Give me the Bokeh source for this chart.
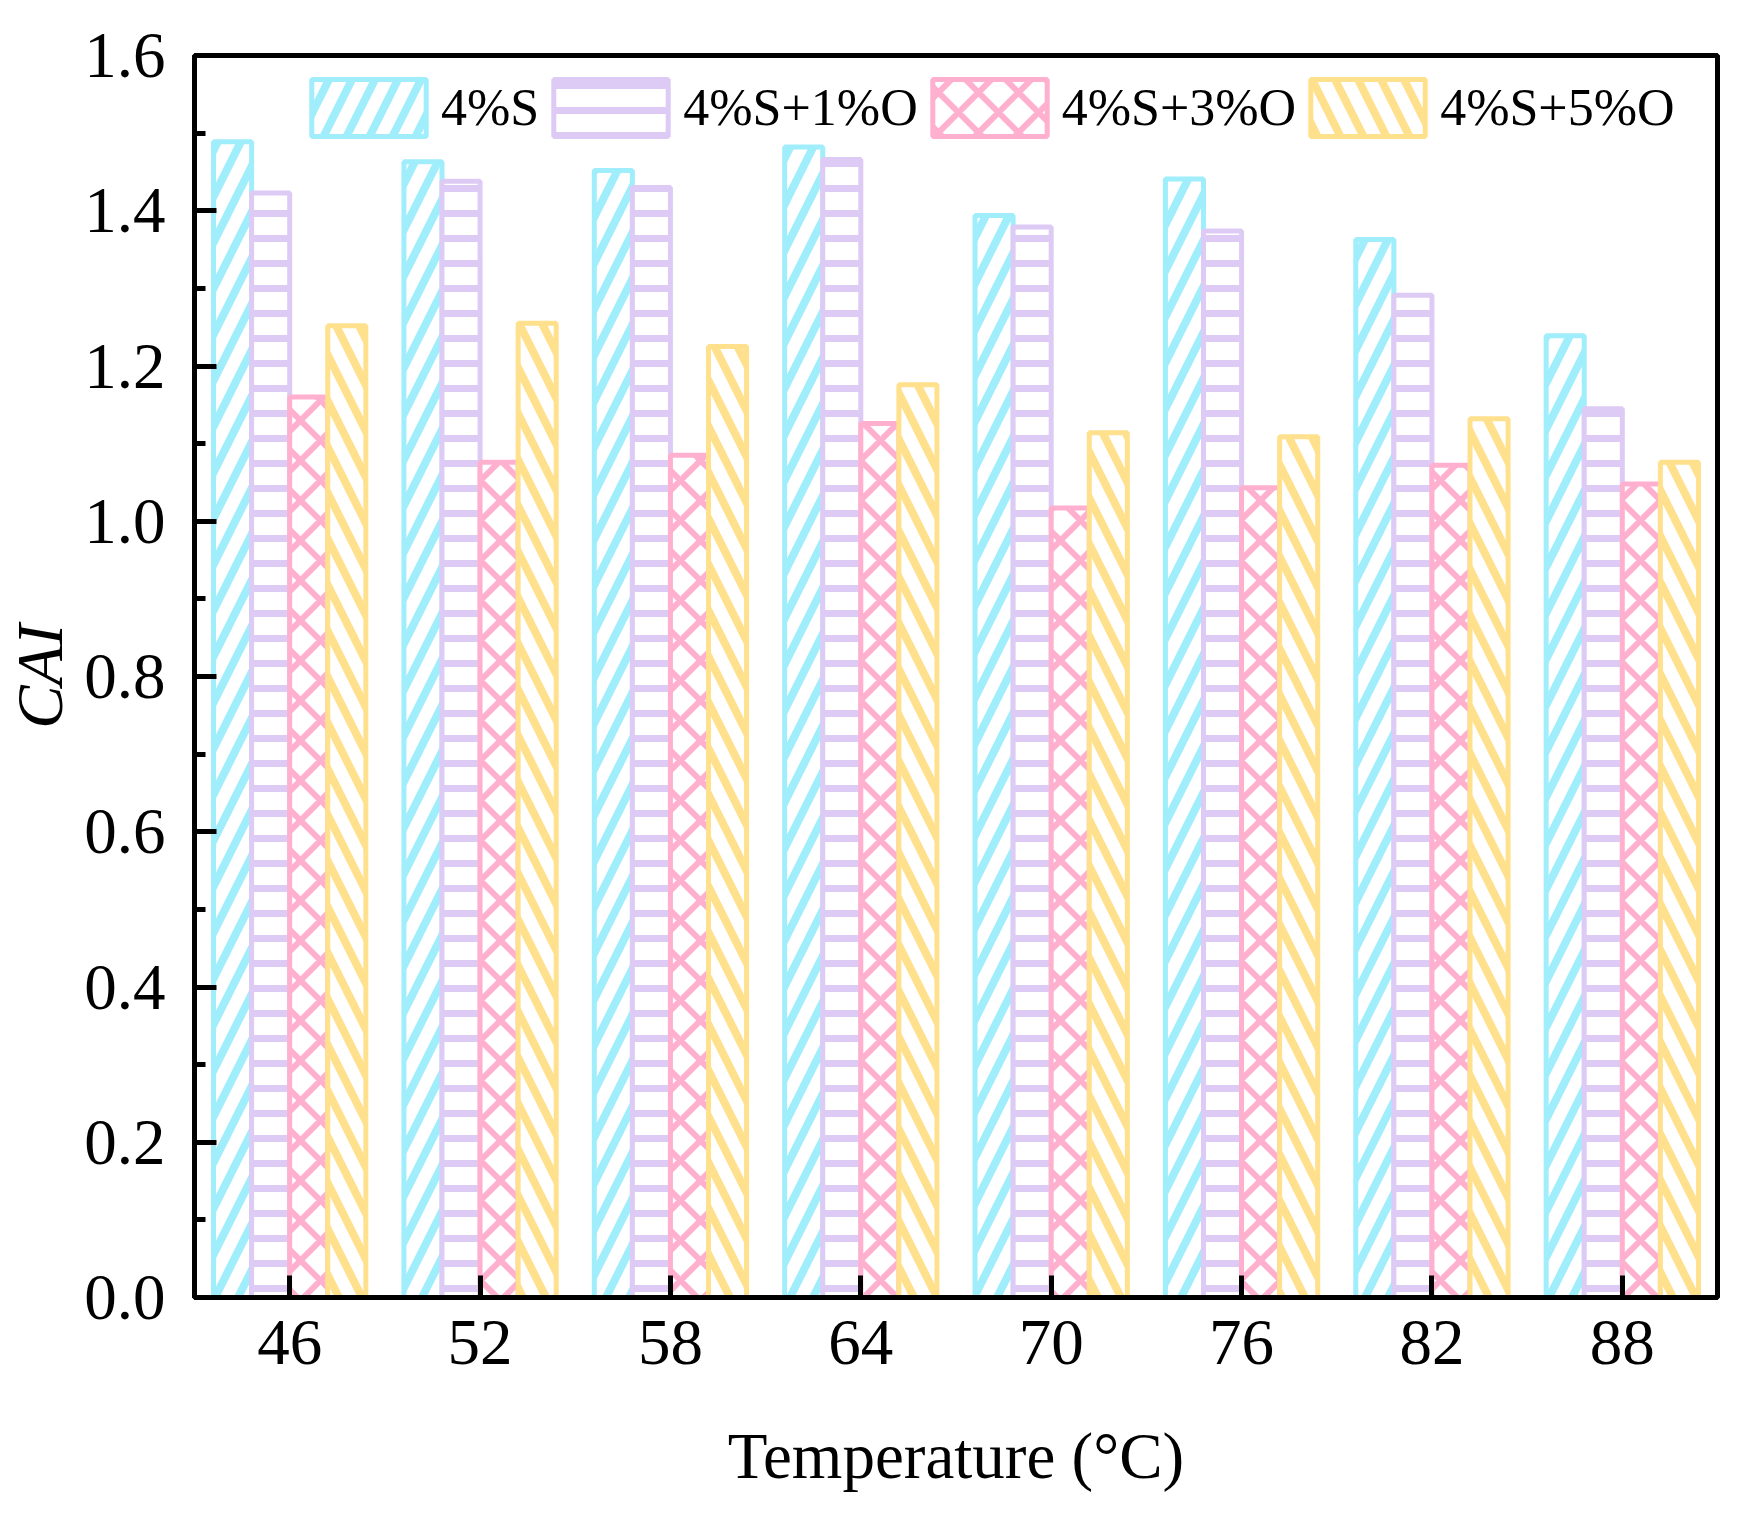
from bokeh.plotting import figure
from bokeh.models import (ColumnDataSource, Range1d, FactorRange, FixedTicker,
                          PrintfTickFormatter, Legend, LegendItem)
from bokeh.transform import dodge
from bokeh.embed import file_html
from bokeh.resources import INLINE

# ---- data ----
temps = ["46", "52", "58", "64", "70", "76", "82", "88"]
s4    = [1.489, 1.463, 1.452, 1.482, 1.394, 1.441, 1.363, 1.239]
s4_o1 = [1.423, 1.438, 1.430, 1.466, 1.379, 1.374, 1.291, 1.145]
s4_o3 = [1.160, 1.076, 1.085, 1.126, 1.017, 1.043, 1.072, 1.048]
s4_o5 = [1.252, 1.255, 1.225, 1.176, 1.114, 1.109, 1.132, 1.076]
series_names = ["4%S", "4%S+1%O", "4%S+3%O", "4%S+5%O"]
y_ticks = [0.0, 0.2, 0.4, 0.6, 0.8, 1.0, 1.2, 1.4, 1.6]
y_minor = [0.1, 0.3, 0.5, 0.7, 0.9, 1.1, 1.3, 1.5]

colors = ["#A0EDFB", "#DDCBF5", "#FFB0CE", "#FFE08D"]
patterns = ["/", "-", "x", "\\"]
scales = [46, 25, 40, 46]
weights = [8, 7, 6, 8]
offsets = [-0.3, -0.1, 0.1, 0.3]

source = ColumnDataSource(dict(temp=temps, s0=s4, s1=s4_o1, s2=s4_o3, s3=s4_o5))

FONT = "Liberation Serif"

p = figure(frame_width=1523, frame_height=1242, output_backend="svg", toolbar_location=None,
           x_range=FactorRange(*temps), y_range=Range1d(0, 1.6),
           min_border_left=194, min_border_right=17, min_border_top=55,
           min_border_bottom=200)
p.grid.visible = False
p.outline_line_color = "black"
p.outline_line_width = 5
p.outline_line_alpha = 1

rends = []
for i in range(4):
    r = p.vbar(x=dodge("temp", offsets[i], range=p.x_range), top="s%d" % i,
               bottom=0, width=0.2, source=source,
               fill_color="white", line_color=colors[i], line_width=5,
               hatch_pattern=patterns[i], hatch_color=colors[i],
               hatch_weight=weights[i], hatch_scale=scales[i])
    rends.append(r)

for ax in (p.xaxis[0], p.yaxis[0]):
    ax.axis_line_width = 5
    ax.axis_line_color = "black"
    ax.major_tick_line_width = 5
    ax.major_tick_line_color = "black"
    ax.major_tick_in = 22
    ax.major_tick_out = 0
    ax.major_label_text_font = FONT
    ax.major_label_text_font_size = "65px"
    ax.major_label_text_color = "black"
    ax.axis_label_text_font = FONT
    ax.axis_label_text_font_size = "65px"
    ax.axis_label_text_color = "black"

p.yaxis.ticker = FixedTicker(ticks=y_ticks, minor_ticks=y_minor)
p.yaxis.formatter = PrintfTickFormatter(format="%.1f")
p.yaxis.minor_tick_in = 11
p.yaxis.minor_tick_out = 0
p.yaxis.minor_tick_line_width = 5
p.yaxis.minor_tick_line_color = "black"
p.yaxis.major_label_standoff = 29
p.yaxis.axis_label = "CAI"
p.yaxis.axis_label_text_font_style = "italic"
p.yaxis.axis_label_standoff = 5

p.xaxis.major_label_standoff = 23
p.xaxis.axis_label = "Temperature (°C)"
p.xaxis.axis_label_text_font_style = "normal"
p.xaxis.axis_label_standoff = 53

legend = Legend(items=[LegendItem(label=series_names[i], renderers=[rends[i]]) for i in range(4)],
                orientation="horizontal", location=(103, 1154),
                glyph_width=143, glyph_height=71, label_standoff=1, spacing=0,
                padding=0, margin=0, border_line_color=None,
                background_fill_alpha=0,
                label_text_font=FONT, label_text_font_size="52px",
                label_text_color="black")
p.add_layout(legend)

open("out.html", "w").write(file_html(p, INLINE))
